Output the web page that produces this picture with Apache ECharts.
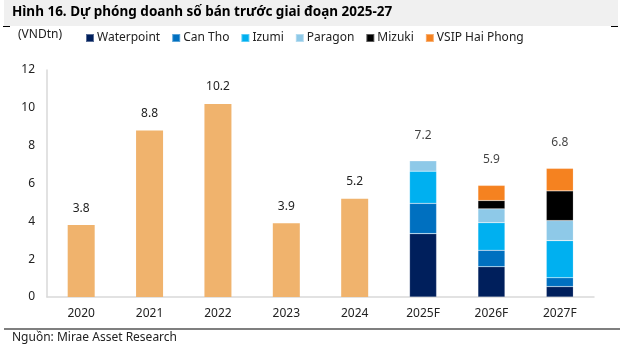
<!DOCTYPE html>
<html>
<head>
<meta charset="utf-8">
<script src="https://cdn.jsdelivr.net/npm/echarts@6/dist/echarts.min.js"></script>
<style>
  html, body { margin: 0; padding: 0; background: #fff; }
  #chart { width: 622px; height: 350px; }
</style>
</head>
<body>
<div id="chart"></div>
<script>
// nhãn trục và dữ liệu (VNDtn)
var years = ['2020', '2021', '2022', '2023', '2024', '2025F', '2026F', '2027F'];
var actual = [3.8, 8.8, 10.2, 3.9, 5.2, null, null, null];
var waterpoint = [null, null, null, null, null, 3.35, 1.6, 0.55];
var canTho = [null, null, null, null, null, 1.6, 0.87, 0.47];
var izumi = [null, null, null, null, null, 1.7, 1.46, 1.96];
var paragon = [null, null, null, null, null, 0.55, 0.73, 1.06];
var mizuki = [null, null, null, null, null, null, 0.44, 1.57];
var vsip = [null, null, null, null, null, null, 0.8, 1.19];
var totals = [null, null, null, null, null, 7.2, 5.9, 6.8];

var font = "'Noto Sans', 'Open Sans', sans-serif";
var txt = '#222';

function part(name, data, color) {
    return {
        name: name,
        type: 'bar',
        stack: 'all',
        barWidth: 27,
        data: data,
        itemStyle: { color: color, borderColor: 'rgba(255,255,255,0.35)', borderWidth: 0.5 }
    };
}

var chart = echarts.init(document.getElementById('chart'));

var option = {
    animation: false,
    backgroundColor: '#fff',
    textStyle: { fontFamily: font },
    grid: { left: 47, right: 28, top: 70, bottom: 53 },
    legend: {
        left: 85,
        top: 32,
        padding: 0,
        itemWidth: 8,
        itemHeight: 8,
        itemGap: 11,
        icon: 'rect',
        textStyle: { fontFamily: font, fontSize: 12, color: txt, padding: [0, 0, 0, -2] },
        data: ['Waterpoint', 'Can Tho', 'Izumi', 'Paragon', 'Mizuki', 'VSIP Hai Phong']
    },
    graphic: [
        { type: 'rect', left: 4, top: 0, shape: { width: 614, height: 26 }, style: { fill: '#f0f0f0' } },
        { type: 'line', shape: { x1: 3, y1: 26.5, x2: 10, y2: 26.5 }, style: { stroke: '#000', lineWidth: 1 } },
        { type: 'line', shape: { x1: 611, y1: 26.5, x2: 618, y2: 26.5 }, style: { stroke: '#000', lineWidth: 1 } },
        {
            type: 'text', x: 12, y: 4, scaleX: 0.9,
            style: { text: 'Hình 16. Dự phóng doanh số bán trước giai đoạn 2025-27', font: 'bold 15px ' + font, fill: '#000' }
        },
        {
            type: 'text', left: 18, top: 29,
            style: { text: '(VNDtn)', font: '12px ' + font, fill: txt }
        },
        { type: 'line', shape: { x1: 4, y1: 329, x2: 620, y2: 329 }, style: { stroke: '#000', lineWidth: 1.2 } },
        {
            type: 'text', left: 12, top: 332,
            style: { text: 'Nguồn: Mirae Asset Research', font: '12px ' + font, fill: txt }
        }
    ],
    xAxis: {
        type: 'category',
        data: years,
        axisLine: { lineStyle: { color: '#d9d9d9', width: 1.5 } },
        axisTick: { show: false },
        axisLabel: { color: txt, fontSize: 12, margin: 11 }
    },
    yAxis: {
        type: 'value',
        min: 0,
        max: 12,
        interval: 2,
        axisLine: { show: true, lineStyle: { color: '#d9d9d9', width: 1.5 } },
        axisTick: { show: false },
        splitLine: { show: false },
        axisLabel: { color: txt, fontSize: 12, margin: 12 }
    },
    series: [
        {
            name: 'Thực tế',
            type: 'bar',
            stack: 'all',
            barWidth: 27,
            data: actual,
            itemStyle: { color: '#f0b36d' },
            label: { show: true, position: 'top', distance: 11, color: txt, fontSize: 12 }
        },
        part('Waterpoint', waterpoint, '#001f5c'),
        part('Can Tho', canTho, '#0070c0'),
        part('Izumi', izumi, '#00b0f0'),
        part('Paragon', paragon, '#8ec9e8'),
        part('Mizuki', mizuki, '#000000'),
        part('VSIP Hai Phong', vsip, '#f58220'),
        {
            name: 'Tổng',
            type: 'scatter',
            data: totals,
            symbol: 'circle',
            symbolSize: 1,
            itemStyle: { color: 'rgba(0,0,0,0)' },
            label: { show: true, position: 'top', distance: 19, color: '#111', fontSize: 12 }
        }
    ]
};

chart.setOption(option);
</script>
</body>
</html>
